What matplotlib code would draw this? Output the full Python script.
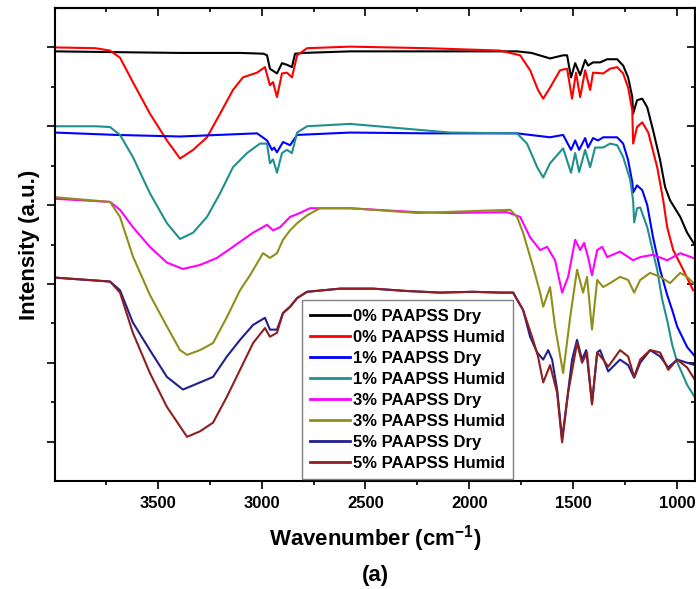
import matplotlib
matplotlib.use("Agg")
import matplotlib.pyplot as plt
from matplotlib.ticker import FixedLocator, NullFormatter

plt.rcParams['font.family'] = ['Liberation Sans', 'DejaVu Sans']
plt.rcParams['font.weight'] = 'bold'
plt.rcParams['mathtext.fontset'] = 'custom'
plt.rcParams['mathtext.rm'] = 'Liberation Sans:bold'
plt.rcParams['mathtext.bf'] = 'Liberation Sans:bold'
plt.rcParams['mathtext.default'] = 'bf'

# ---------------- data ----------------
labels = ["0% PAAPSS Dry", "0% PAAPSS Humid", "1% PAAPSS Dry", "1% PAAPSS Humid",
          "3% PAAPSS Dry", "3% PAAPSS Humid", "5% PAAPSS Dry", "5% PAAPSS Humid"]
colors = ["#000000", "#ff0000", "#0000ff", "#1f8f8f",
          "#ff00ff", "#8f8f1a", "#20208f", "#8f1f1f"]

wn_d0 = [3995, 3700, 3393, 3100, 2990, 2974, 2960, 2926, 2902, 2878, 2854, 2839, 2800, 2574, 2200,
         1770, 1700, 1611, 1548, 1529, 1510, 1490, 1466, 1442, 1428, 1404, 1370, 1336, 1288, 1259,
         1235, 1215, 1211, 1192, 1167, 1143, 1115, 1081, 1057, 1033, 984, 951, 913]
i_d0 = [4.95, 4.94, 4.93, 4.93, 4.92, 4.90, 4.73, 4.67, 4.80, 4.78, 4.75, 4.92, 4.93, 4.95, 4.95,
        4.95, 4.93, 4.86, 4.90, 4.90, 4.62, 4.80, 4.65, 4.84, 4.77, 4.81, 4.81, 4.85, 4.85, 4.77,
        4.62, 4.37, 4.16, 4.33, 4.35, 4.24, 3.95, 3.57, 3.23, 3.06, 2.85, 2.65, 2.49]

wn_h0 = [3995, 3800, 3730, 3682, 3620, 3538, 3456, 3393, 3330, 3263, 3200, 3138, 3090, 3022, 2984,
         2960, 2945, 2926, 2902, 2878, 2854, 2829, 2781, 2574, 2200, 1852, 1755, 1707, 1669, 1644,
         1611, 1563, 1529, 1505, 1486, 1466, 1442, 1418, 1404, 1355, 1322, 1288, 1259, 1235, 1215,
         1211, 1192, 1167, 1138, 1095, 1066, 1047, 1018, 970, 922]
i_h0 = [5.00, 4.99, 4.96, 4.87, 4.56, 4.16, 3.82, 3.59, 3.70, 3.86, 4.16, 4.46, 4.62, 4.68, 4.75,
        4.52, 4.56, 4.37, 4.67, 4.68, 4.62, 4.90, 4.99, 5.01, 4.99, 4.96, 4.90, 4.71, 4.46, 4.35,
        4.49, 4.71, 4.73, 4.35, 4.68, 4.37, 4.71, 4.46, 4.68, 4.67, 4.73, 4.75, 4.67, 4.49, 4.20,
        3.78, 3.99, 4.05, 3.92, 3.48, 3.06, 2.72, 2.43, 2.18, 1.92]

wn_d1 = [3995, 3700, 3393, 3022, 2974, 2950, 2940, 2926, 2897, 2863, 2829, 2574, 2200, 1770, 1611,
         1548, 1510, 1490, 1471, 1442, 1428, 1404, 1380, 1355, 1288, 1259, 1235, 1215, 1211, 1192,
         1167, 1143, 1115, 1081, 1047, 1023, 999, 951, 913]
i_d1 = [3.92, 3.89, 3.87, 3.91, 3.82, 3.70, 3.73, 3.67, 3.80, 3.76, 3.89, 3.92, 3.91, 3.91, 3.86,
        3.89, 3.70, 3.82, 3.70, 3.85, 3.73, 3.85, 3.82, 3.86, 3.86, 3.78, 3.57, 3.29, 3.16, 3.25,
        3.19, 3.00, 2.59, 2.18, 1.86, 1.67, 1.46, 1.20, 1.08]

wn_h1 = [3995, 3800, 3730, 3682, 3620, 3538, 3456, 3393, 3330, 3263, 3200, 3138, 3070, 3008, 2974,
         2960, 2945, 2926, 2902, 2878, 2854, 2829, 2781, 2574, 2092, 1770, 1722, 1673, 1644, 1611,
         1548, 1510, 1490, 1471, 1442, 1418, 1394, 1355, 1322, 1288, 1259, 1225, 1211, 1206, 1192,
         1177, 1143, 1115, 1095, 1071, 1047, 1023, 999, 951, 913]
i_h1 = [4.00, 4.00, 3.99, 3.89, 3.61, 3.15, 2.77, 2.57, 2.65, 2.85, 3.15, 3.48, 3.66, 3.78, 3.78,
        3.53, 3.58, 3.41, 3.66, 3.70, 3.66, 3.92, 4.00, 4.03, 3.92, 3.91, 3.78, 3.48, 3.35, 3.53,
        3.72, 3.41, 3.66, 3.42, 3.70, 3.48, 3.73, 3.73, 3.78, 3.76, 3.61, 3.32, 3.06, 2.78, 2.96,
        2.97, 2.72, 2.40, 2.18, 1.80, 1.54, 1.23, 1.01, 0.72, 0.56]

wn_d3 = [3995, 3730, 3682, 3620, 3538, 3456, 3379, 3297, 3215, 3138, 3041, 2974, 2945, 2911, 2863,
         2815, 2767, 2704, 2574, 2251, 2092, 1818, 1755, 1707, 1659, 1625, 1587, 1553, 1524, 1490,
         1466, 1447, 1428, 1409, 1384, 1360, 1336, 1274, 1211, 1177, 1115, 1047, 984, 922]
i_d3 = [3.08, 3.04, 2.94, 2.72, 2.47, 2.27, 2.19, 2.24, 2.33, 2.47, 2.65, 2.75, 2.68, 2.72, 2.85,
        2.90, 2.96, 2.96, 2.96, 2.91, 2.90, 2.91, 2.85, 2.59, 2.43, 2.47, 2.30, 1.89, 2.09, 2.56,
        2.43, 2.52, 2.34, 2.11, 2.43, 2.47, 2.34, 2.41, 2.30, 2.34, 2.37, 2.30, 2.39, 2.33]

wn_h3 = [3995, 3730, 3682, 3620, 3538, 3456, 3393, 3359, 3297, 3234, 3167, 3104, 3056, 2993, 2960,
         2926, 2897, 2863, 2829, 2781, 2719, 2574, 2251, 1803, 1770, 1741, 1693, 1659, 1644, 1611,
         1587, 1548, 1514, 1481, 1452, 1433, 1409, 1384, 1355, 1322, 1274, 1235, 1206, 1177, 1129,
         1081, 1033, 984, 951, 913]
i_h3 = [3.10, 3.04, 2.85, 2.35, 1.86, 1.46, 1.16, 1.10, 1.16, 1.25, 1.58, 1.92, 2.11, 2.39, 2.33,
        2.39, 2.56, 2.68, 2.77, 2.87, 2.96, 2.96, 2.90, 2.94, 2.85, 2.65, 2.22, 1.89, 1.71, 1.96,
        1.46, 0.87, 1.58, 2.18, 1.89, 2.09, 1.42, 2.05, 1.96, 2.01, 2.09, 2.05, 1.89, 2.05, 2.14,
        2.09, 2.01, 2.14, 2.09, 1.99]

wn_d5 = [3995, 3730, 3682, 3620, 3538, 3456, 3379, 3297, 3234, 3167, 3104, 3041, 2984, 2960, 2926,
         2897, 2863, 2829, 2781, 2622, 2463, 2300, 2141, 1982, 1852, 1789, 1741, 1707, 1673, 1644,
         1620, 1601, 1577, 1553, 1529, 1505, 1481, 1457, 1437, 1409, 1384, 1370, 1331, 1274, 1235,
         1206, 1177, 1129, 1081, 1042, 999, 951, 913]
i_d5 = [2.08, 2.03, 1.92, 1.51, 1.16, 0.82, 0.66, 0.75, 0.82, 1.08, 1.29, 1.48, 1.57, 1.42, 1.42,
        1.63, 1.71, 1.82, 1.90, 1.94, 1.94, 1.91, 1.89, 1.90, 1.89, 1.89, 1.67, 1.33, 1.13, 1.04,
        1.16, 1.04, 0.66, 0.03, 0.53, 1.04, 1.29, 1.04, 1.16, 0.49, 1.13, 1.16, 0.89, 1.04, 0.97,
        0.81, 1.00, 1.16, 1.08, 0.94, 1.04, 1.00, 0.97]

wn_h5 = [3995, 3730, 3682, 3620, 3538, 3456, 3359, 3297, 3234, 3167, 3104, 3041, 2984, 2960, 2926,
         2897, 2863, 2829, 2781, 2622, 2463, 2300, 2141, 1982, 1852, 1789, 1741, 1693, 1669, 1644,
         1611, 1577, 1553, 1524, 1481, 1457, 1433, 1409, 1384, 1355, 1331, 1274, 1235, 1206, 1177,
         1129, 1081, 1042, 999, 951, 913]
i_h5 = [2.08, 2.03, 1.89, 1.38, 0.87, 0.44, 0.06, 0.13, 0.24, 0.57, 0.91, 1.25, 1.44, 1.33, 1.38,
        1.63, 1.71, 1.82, 1.90, 1.94, 1.94, 1.91, 1.89, 1.90, 1.89, 1.89, 1.67, 1.29, 1.08, 0.75,
        0.97, 0.62, -0.01, 0.62, 1.25, 1.00, 1.13, 0.47, 1.13, 1.04, 0.95, 1.16, 1.08, 0.82, 1.04,
        1.16, 1.13, 0.91, 1.04, 0.94, 0.78]

series = [(wn_d0, i_d0), (wn_h0, i_h0), (wn_d1, i_d1), (wn_h1, i_h1),
          (wn_d3, i_d3), (wn_h3, i_h3), (wn_d5, i_d5), (wn_h5, i_h5)]

x_major = [3500, 3000, 2500, 2000, 1500, 1000]
x_minor = [3750, 3250, 2750, 2250, 1750, 1250]
y_major = [0, 1, 2, 3, 4, 5]
y_minor = [0.5, 1.5, 2.5, 3.5, 4.5]

# ---------------- figure ----------------
fig = plt.figure(figsize=(6.96, 5.89), dpi=100)
ax = fig.add_axes([55 / 696, 1 - 481 / 589, 640 / 696, 473 / 589])

for (wn, it), lab, col in zip(series, labels, colors):
    ax.plot(wn, it, color=col, lw=1.5, label=lab)

ax.set_xlim(3995, 913)
ax.set_ylim(-0.5, 5.5)

ax.xaxis.set_major_locator(FixedLocator(x_major))
ax.xaxis.set_minor_locator(FixedLocator(x_minor))
ax.yaxis.set_major_locator(FixedLocator(y_major))
ax.yaxis.set_minor_locator(FixedLocator(y_minor))
ax.yaxis.set_major_formatter(NullFormatter())

for sp in ax.spines.values():
    sp.set_linewidth(1.5)

ax.tick_params(axis='both', which='major', direction='out', length=5.5, width=1.2,
               labelsize=12, pad=5)
ax.tick_params(axis='both', which='minor', direction='out', length=3.2, width=1.2)
for lbl in ax.get_xticklabels():
    lbl.set_fontweight('bold')

# mirrored inward ticks on top and right
top = ax.secondary_xaxis('top')
top.xaxis.set_major_locator(FixedLocator(x_major))
top.xaxis.set_minor_locator(FixedLocator(x_minor))
top.tick_params(which='major', direction='in', length=5.5, width=1.2, labeltop=False)
top.tick_params(which='minor', direction='in', length=3.2, width=1.2)
top.spines['top'].set_linewidth(1.5)

right = ax.secondary_yaxis('right')
right.yaxis.set_major_locator(FixedLocator(y_major))
right.yaxis.set_minor_locator(FixedLocator(y_minor))
right.tick_params(which='major', direction='in', length=5.5, width=1.2, labelright=False)
right.tick_params(which='minor', direction='in', length=3.2, width=1.2)
right.spines['right'].set_linewidth(1.5)

leg = ax.legend(loc='lower left', bbox_to_anchor=(247 / 640, 0.004), borderaxespad=0,
                prop={'weight': 'bold', 'size': 12},
                handlelength=2.4, handletextpad=0.15, labelspacing=0.36,
                borderpad=0.5, fancybox=False, framealpha=1, edgecolor='#808080')
leg.get_frame().set_linewidth(1.0)
for line in leg.get_lines():
    line.set_linewidth(2.0)

fig.text(375 / 696, 44 / 589, r'Wavenumber (cm$^{-1}$)', ha='center', va='baseline',
         fontsize=16, fontweight='bold')
fig.text(375 / 696, 8 / 589, '(a)', ha='center', va='baseline', fontsize=16, fontweight='bold')
fig.text(30 / 696, 1 - 245 / 589, 'Intensity (a.u.)', ha='center', va='center',
         rotation=90, fontsize=16, fontweight='bold')

fig.savefig('out.png', dpi=100)
